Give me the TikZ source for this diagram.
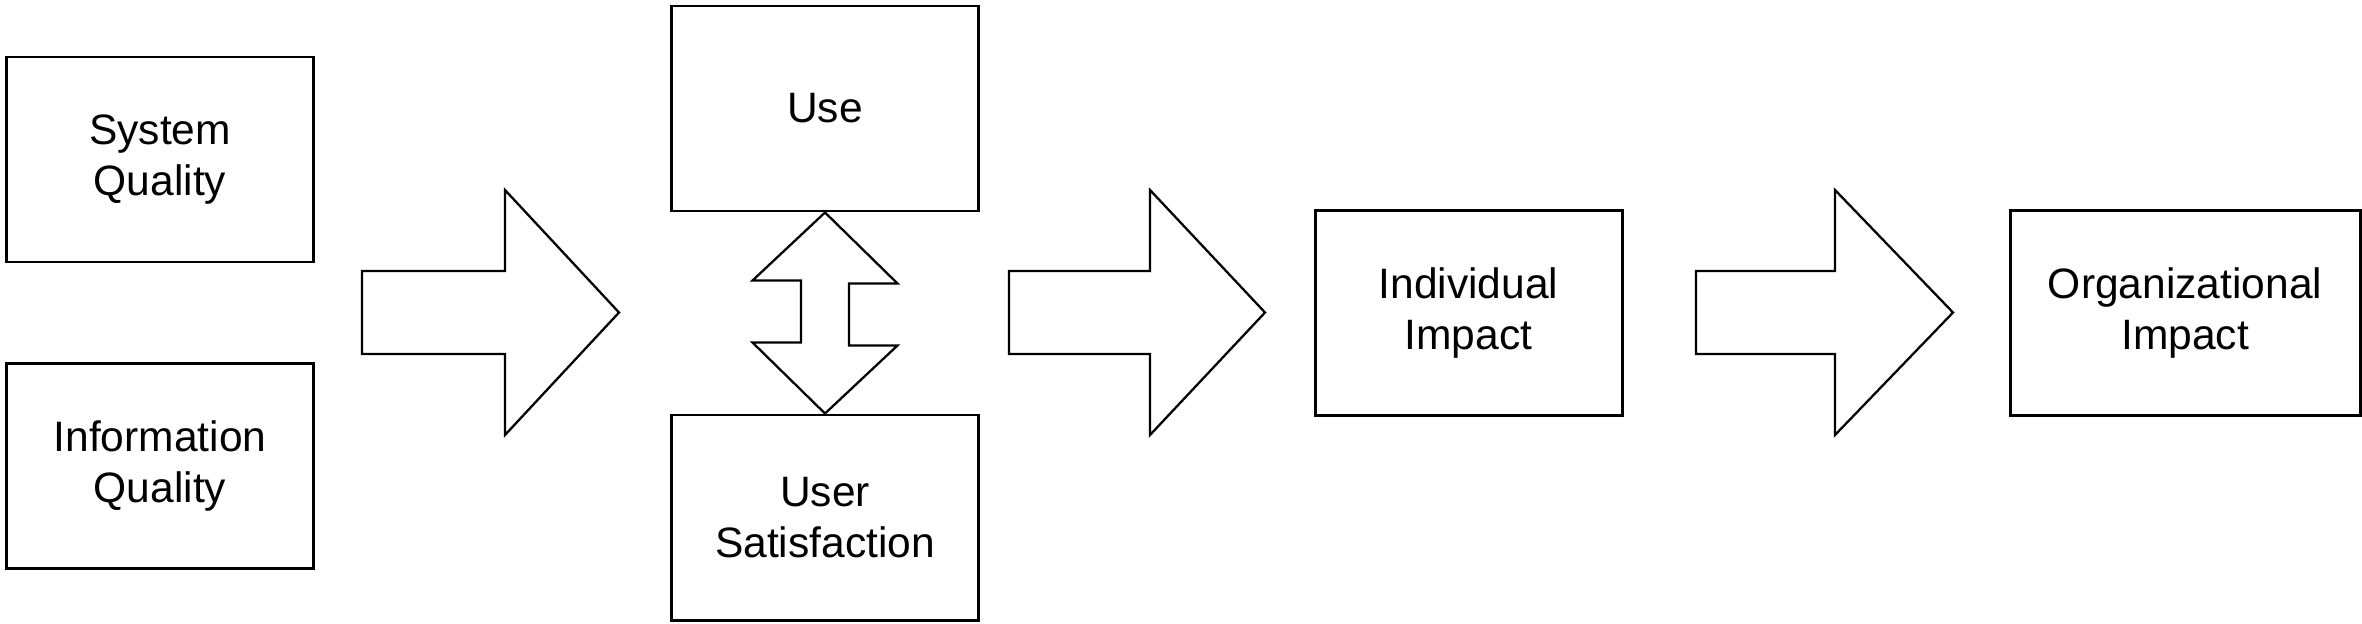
\documentclass[tikz,border=0pt]{standalone}
\usepackage{fontspec}
\setmainfont{Liberation Sans}
\begin{document}
\begin{tikzpicture}[
    blk/.style={draw,line width=0.85pt,minimum width=3.07cm,
      minimum height=2.05cm,inner sep=0pt,align=center,
      font=\fontsize{12.1pt}{14.3pt}\selectfont},
    fatarrow/.style={draw,line width=0.65pt,line join=miter}]
    \useasboundingbox (0,0) rectangle (23.62,6.23);
    \node[blk] (sysq) at (1.60,4.635) {System\\Quality};
    \node[blk] (infoq) at (1.60,1.57) {Information\\Quality};
    \node[blk] (use) at (8.25,5.145) {Use};
    \node[blk] (sat) at (8.25,1.055) {User\\Satisfaction};
    \node[blk] (indiv) at (14.685,3.10) {Individual\\Impact};
    \node[blk,minimum width=3.50cm] (org) at (21.85,3.10)
    {Organizational\\Impact};
    \draw[fatarrow] (3.62,2.69) -- (5.05,2.69) -- (5.05,1.88) --
    (6.19,3.105) -- (5.05,4.33) -- (5.05,3.52) -- (3.62,3.52) -- cycle;
    \draw[fatarrow] (10.09,2.69) -- (11.50,2.69) -- (11.50,1.88) --
    (12.65,3.105) -- (11.50,4.33) -- (11.50,3.52) -- (10.09,3.52) -- cycle;
    \draw[fatarrow] (16.96,2.69) -- (18.35,2.69) -- (18.35,1.88) --
    (19.53,3.105) -- (18.35,4.33) -- (18.35,3.52) -- (16.96,3.52) -- cycle;
    \draw[fatarrow] (use.south) -- ++(0.725,-0.71) -- ++(-0.485,0) --
    ++(0,-0.62) -- ++(0.485,0) -- (sat.north) -- ++(-0.725,0.71) --
    ++(0.485,0) -- ++(0,0.62) -- ++(-0.485,0) -- cycle;
  \end{tikzpicture}
\end{document}
